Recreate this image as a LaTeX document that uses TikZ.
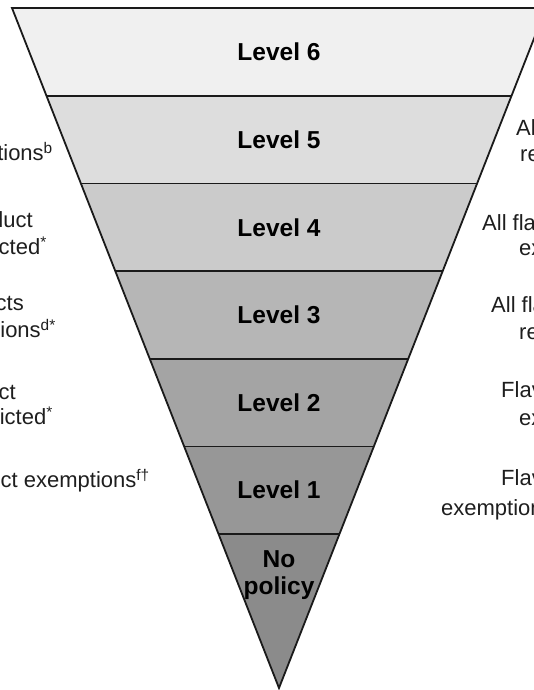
\documentclass[tikz,border=0pt]{standalone}
\usepackage{fontspec}
\setmainfont{Liberation Sans}
\definecolor{edge}{HTML}{1A1A1A}
\definecolor{sidetxt}{HTML}{1E1E1E}
\definecolor{cSix}{HTML}{F0F0F0}
\definecolor{cFive}{HTML}{DDDDDD}
\definecolor{cFour}{HTML}{CBCBCB}
\definecolor{cThree}{HTML}{B6B6B6}
\definecolor{cTwo}{HTML}{A4A4A4}
\definecolor{cOne}{HTML}{979797}
\definecolor{cNone}{HTML}{8B8B8B}
\tikzset{
  levellabel/.style={font=\fontsize{24.5}{27}\selectfont\bfseries, text=black, inner sep=0pt, align=center},
  sidelabel/.style={font=\fontsize{22}{26}\selectfont, text=sidetxt, inner sep=0pt},
  band/.style={draw=edge, line width=1.8pt, line join=miter}
}
\begin{document}
\begin{tikzpicture}[x=1pt,y=-1pt]
\useasboundingbox (0,0) rectangle (534,690);
\clip (0,0) rectangle (534,690);
% bands
\fill[cSix]   (12,8) -- (546,8) -- (511.57,95.7) -- (46.43,95.7) -- cycle;
\fill[cFive]  (46.43,95.7) -- (511.57,95.7) -- (477.13,183.4) -- (80.87,183.4) -- cycle;
\fill[cFour]  (80.87,183.4) -- (477.13,183.4) -- (442.69,271.1) -- (115.31,271.1) -- cycle;
\fill[cThree] (115.31,271.1) -- (442.69,271.1) -- (408.26,358.8) -- (149.74,358.8) -- cycle;
\fill[cTwo]   (149.74,358.8) -- (408.26,358.8) -- (373.82,446.5) -- (184.18,446.5) -- cycle;
\fill[cOne]   (184.18,446.5) -- (373.82,446.5) -- (339.39,534.2) -- (218.61,534.2) -- cycle;
\fill[cNone]  (218.61,534.2) -- (339.39,534.2) -- (279,688) -- cycle;
% separators
\draw[band] (46.43,95.7) -- (511.57,95.7);
\draw[band] (80.87,183.4) -- (477.13,183.4);
\draw[band] (115.31,271.1) -- (442.69,271.1);
\draw[band] (149.74,358.8) -- (408.26,358.8);
\draw[band] (184.18,446.5) -- (373.82,446.5);
\draw[band] (218.61,534.2) -- (339.39,534.2);
% outline
\draw[band] (12,8) -- (546,8) -- (279,688) -- cycle;
% level labels
\node[levellabel] (l6) at (279,51.5) {Level 6};
\node[levellabel] (l5) at (279,140) {Level 5};
\node[levellabel] (l4) at (279,227.5) {Level 4};
\node[levellabel] (l3) at (279,315) {Level 3};
\node[levellabel] (l2) at (279,403) {Level 2};
\node[levellabel] (l1) at (279,490) {Level 1};
\node[levellabel] (l0) at (279,575) {No\\policy};
% left side texts (cut by the picture edge)
\node[sidelabel, anchor=mid east] (a5) at (53,158) {tions\textsuperscript{b}};
\node[sidelabel, anchor=mid east] (a4a) at (33,225) {duct};
\node[sidelabel, anchor=mid east] (a4b) at (47,252) {icted\textsuperscript{*}};
\node[sidelabel, anchor=mid east] (a3a) at (24,308) {cts};
\node[sidelabel, anchor=mid east] (a3b) at (56,335) {ions\textsuperscript{d*}};
\node[sidelabel, anchor=mid east] (a2a) at (16,397) {ct};
\node[sidelabel, anchor=mid east] (a2b) at (53,422) {ricted\textsuperscript{*}};
\node[sidelabel, anchor=mid east] (a1) at (150,485) {ct exemptions\textsuperscript{f†}};
% right side texts (cut by the picture edge)
\node[sidelabel, anchor=mid west] (b5a) at (516,133) {Al};
\node[sidelabel, anchor=mid west] (b5b) at (520,159) {re};
\node[sidelabel, anchor=mid west] (b4a) at (482,228) {All fla};
\node[sidelabel, anchor=mid west] (b4b) at (519,253) {ex};
\node[sidelabel, anchor=mid west] (b3a) at (491,310) {All fla};
\node[sidelabel, anchor=mid west] (b3b) at (519,337) {re};
\node[sidelabel, anchor=mid west] (b2a) at (501,395) {Flav};
\node[sidelabel, anchor=mid west] (b2b) at (519,423) {ex};
\node[sidelabel, anchor=mid west] (b1a) at (501,483) {Flav};
\node[sidelabel, anchor=mid west] (b1b) at (441,513) {exemption};
\end{tikzpicture}
\end{document}
